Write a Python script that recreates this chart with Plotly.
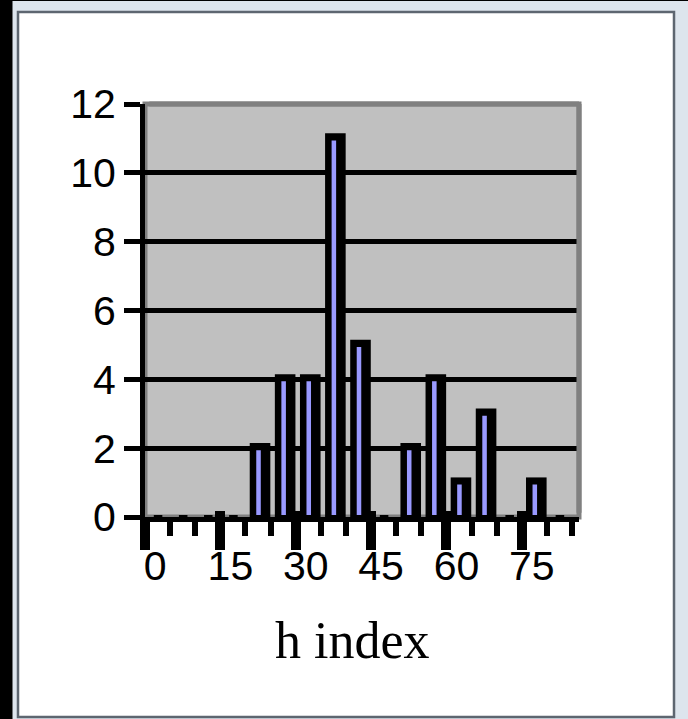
import numpy as np
import plotly.graph_objects as go

# Histogram of h index values, 5-wide bins starting at 0
bin_starts = [0, 5, 10, 15, 20, 25, 30, 35, 40, 45, 50, 55, 60, 65, 70, 75, 80]
counts = [0, 0, 0, 0, 2, 4, 4, 11, 5, 0, 2, 4, 1, 3, 0, 1, 0]

x_label_vals = [0, 15, 30, 45, 60, 75]
x_label_text = ["0", "15", "30", "45", "60", "75"]
y_tick_vals = [0, 2, 4, 6, 8, 10, 12]

W_FIG, H_FIG = 688, 719
M_L, M_R, M_T, M_B = 145, 109, 104, 202
PW = W_FIG - M_L - M_R
PH = H_FIG - M_T - M_B

X_MAX = 86.4
Y_MAX = 12


def px(xp):
    return (xp - M_L) / PW


def py(yp):
    return (H_FIG - M_B - yp) / PH


starts = np.array(bin_starts, dtype=float)
vals = np.array(counts, dtype=float)

# 3-D look: a black body whose top face sits slightly above the count,
# with a narrow outlined blue front face
depth = 0.15
body_h = np.where(vals > 0, vals + depth, 0)

fig = go.Figure()
fig.add_trace(go.Bar(
    x=starts + 2.9, y=body_h, width=4.1,
    marker=dict(color="black", line=dict(width=0)),
    hoverinfo="skip", showlegend=False,
))
fig.add_trace(go.Bar(
    x=starts + 2.6, y=vals, width=1.7,
    marker=dict(color="#9999ff", line=dict(color="black", width=4)),
    hovertemplate="%{customdata}: %{y}<extra></extra>",
    customdata=bin_starts, showlegend=False,
))
# empty traces so the overlay axes are drawn
fig.add_trace(go.Scatter(x=[None], y=[None], xaxis="x2", yaxis="y",
                         showlegend=False, hoverinfo="skip"))
fig.add_trace(go.Scatter(x=[None], y=[None], xaxis="x3", yaxis="y",
                         showlegend=False, hoverinfo="skip"))

tick_font = dict(family="Liberation Sans, Arial, sans-serif", size=41, color="black")

shapes = [
    # outer window frame
    dict(type="rect", xref="paper", yref="paper", layer="below",
         x0=px(12.5), x1=px(688), y0=py(1), y1=py(719),
         fillcolor="#dde5ed", line=dict(width=0)),
    dict(type="rect", xref="paper", yref="paper", layer="below",
         x0=px(18), x1=px(674), y0=py(12), y1=py(717),
         fillcolor="white", line=dict(color="#5d6670", width=2.5)),
    # plot area wall
    dict(type="rect", xref="paper", yref="paper", layer="below",
         x0=0, x1=1, y0=0, y1=1,
         fillcolor="#c0c0c0", line=dict(color="#808080", width=5)),
    # top and right wall edges drawn over grid ends
    dict(type="line", xref="paper", yref="paper", layer="above",
         x0=0.01, x1=1, y0=1, y1=1, line=dict(color="#808080", width=5)),
    dict(type="line", xref="paper", yref="paper", layer="above",
         x0=1, x1=1, y0=0.01, y1=1, line=dict(color="#808080", width=5)),
]

fig.update_layout(
    width=W_FIG, height=H_FIG,
    margin=dict(l=M_L, r=M_R, t=M_T, b=M_B, pad=0),
    paper_bgcolor="black",
    plot_bgcolor="rgba(0,0,0,0)",
    barmode="overlay",
    showlegend=False,
    shapes=shapes,
    xaxis=dict(
        range=[0, X_MAX], showgrid=False, zeroline=False,
        showline=True, linecolor="black", linewidth=5,
        tickmode="array", tickvals=x_label_vals, showticklabels=False,
        ticks="outside", ticklen=28, tickwidth=10, tickcolor="black",
        minor=dict(dtick=5, tick0=0, ticks="outside", ticklen=14,
                   tickwidth=6, tickcolor="black", showgrid=False),
        fixedrange=True,
    ),
    xaxis2=dict(
        overlaying="x", anchor="y", side="bottom", range=[0, X_MAX],
        showgrid=False, zeroline=False, showline=False,
        tickmode="array", tickvals=[v + 2 for v in x_label_vals],
        ticktext=x_label_text, tickfont=tick_font,
        ticks="outside", ticklen=13, tickcolor="rgba(0,0,0,0)",
        fixedrange=True,
    ),
    xaxis3=dict(
        overlaying="x", anchor="y", side="bottom", range=[0, X_MAX],
        showgrid=False, zeroline=False, showline=False,
        tickmode="array", tickvals=x_label_vals[1:], showticklabels=False,
        ticks="inside", ticklen=6, tickwidth=10, tickcolor="black",
        fixedrange=True,
    ),
    yaxis=dict(
        range=[0, Y_MAX], zeroline=False,
        showline=True, linecolor="black", linewidth=5,
        tickmode="array", tickvals=y_tick_vals, tickfont=tick_font,
        ticks="outside", ticklen=16, tickwidth=5, tickcolor="black",
        showgrid=True, gridcolor="black", gridwidth=5,
        fixedrange=True,
    ),
    annotations=[
        dict(text="h index", xref="paper", yref="paper",
             x=px(352), y=py(640), xanchor="center", yanchor="middle",
             showarrow=False,
             font=dict(family="Liberation Serif, Times New Roman, serif",
                       size=52, color="black")),
    ],
)

fig.write_html("out.html")
